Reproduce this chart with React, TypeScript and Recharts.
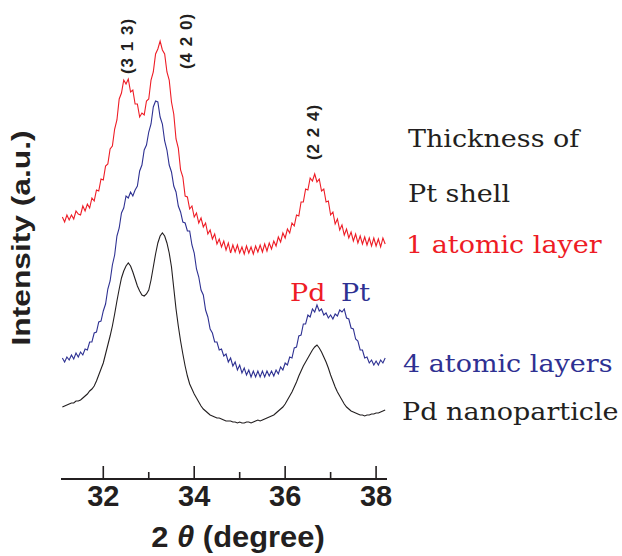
import { LineChart, Line, XAxis, YAxis } from 'recharts'

// 2θ positions (degree), one row per half degree
const angles = [
  31.1, 31.15, 31.2, 31.25, 31.3, 31.35, 31.4, 31.45, 31.5, 31.55,
  31.6, 31.65, 31.7, 31.75, 31.8, 31.85, 31.9, 31.95, 32.0, 32.05,
  32.1, 32.15, 32.2, 32.25, 32.3, 32.35, 32.4, 32.45, 32.5, 32.55,
  32.6, 32.65, 32.7, 32.75, 32.8, 32.85, 32.9, 32.95, 33.0, 33.05,
  33.1, 33.15, 33.2, 33.25, 33.3, 33.35, 33.4, 33.45, 33.5, 33.55,
  33.6, 33.65, 33.7, 33.75, 33.8, 33.85, 33.9, 33.95, 34.0, 34.05,
  34.1, 34.15, 34.2, 34.25, 34.3, 34.35, 34.4, 34.45, 34.5, 34.55,
  34.6, 34.65, 34.7, 34.75, 34.8, 34.85, 34.9, 34.95, 35.0, 35.05,
  35.1, 35.15, 35.2, 35.25, 35.3, 35.35, 35.4, 35.45, 35.5, 35.55,
  35.6, 35.65, 35.7, 35.75, 35.8, 35.85, 35.9, 35.95, 36.0, 36.05,
  36.1, 36.15, 36.2, 36.25, 36.3, 36.35, 36.4, 36.45, 36.5, 36.55,
  36.6, 36.65, 36.7, 36.75, 36.8, 36.85, 36.9, 36.95, 37.0, 37.05,
  37.1, 37.15, 37.2, 37.25, 37.3, 37.35, 37.4, 37.45, 37.5, 37.55,
  37.6, 37.65, 37.7, 37.75, 37.8, 37.85, 37.9, 37.95, 38.0, 38.05,
  38.1, 38.15, 38.2,
]

// intensity (a.u.), curves offset as in the figure
const oneLayer = [
  262, 257, 264, 259, 264, 260, 268, 265, 264, 273,
  268, 275, 271, 281, 278, 289, 288, 300, 299, 313,
  315, 330, 333, 350, 359, 380, 386, 399, 395, 400,
  387, 389, 375, 375, 362, 366, 364, 378, 380, 399,
  407, 425, 430, 438, 429, 425, 407, 399, 377, 365,
  340, 331, 309, 302, 283, 282, 270, 273, 262, 266,
  256, 261, 252, 256, 245, 249, 240, 245, 235, 240,
  232, 238, 229, 236, 226, 234, 227, 234, 226, 232,
  225, 233, 226, 232, 225, 233, 227, 234, 227, 235,
  228, 236, 230, 238, 233, 242, 237, 246, 241, 250,
  246, 256, 253, 264, 263, 277, 277, 290, 289, 301,
  298, 305, 297, 300, 288, 290, 277, 278, 264, 267,
  255, 260, 249, 254, 244, 250, 241, 247, 238, 245,
  236, 243, 235, 242, 234, 241, 233, 241, 233, 240,
  232, 241, 235,
]

const fourLayers = [
  121, 117, 122, 119, 124, 120, 126, 122, 127, 124,
  130, 129, 137, 137, 146, 147, 157, 158, 168, 175,
  190, 198, 214, 224, 243, 251, 266, 271, 283, 281,
  287, 283, 289, 293, 308, 314, 329, 334, 347, 355,
  372, 378, 377, 362, 355, 338, 329, 314, 307, 293,
  287, 273, 267, 257, 256, 248, 248, 234, 226, 210,
  202, 189, 184, 169, 162, 150, 146, 137, 137, 129,
  130, 123, 125, 117, 121, 113, 117, 109, 114, 106,
  111, 104, 109, 102, 108, 102, 108, 102, 108, 102,
  108, 103, 108, 103, 109, 105, 112, 109, 116, 114,
  122, 121, 131, 132, 143, 144, 155, 155, 164, 162,
  170, 167, 174, 168, 170, 164, 166, 161, 164, 160,
  165, 163, 169, 167, 170, 161, 160, 151, 150, 140,
  138, 129, 129, 121, 122, 116, 119, 114, 118, 114,
  119, 116, 121,
]

const pdParticle = [
  72, 73, 74, 75, 76, 76, 78, 78, 79, 81,
  83, 85, 88, 90, 93, 98, 104, 110, 116, 125,
  134, 143, 153, 165, 178, 190, 201, 208, 213, 216,
  213, 207, 200, 193, 188, 184, 183, 185, 189, 199,
  212, 225, 236, 243, 246, 243, 236, 226, 212, 191,
  170, 153, 138, 125, 113, 103, 95, 90, 85, 81,
  77, 73, 70, 68, 66, 64, 63, 62, 61, 61,
  60, 59, 58, 58, 58, 57, 57, 56, 57, 56,
  56, 57, 57, 56, 57, 58, 59, 58, 59, 60,
  61, 62, 63, 64, 66, 68, 70, 72, 75, 79,
  83, 87, 92, 97, 103, 108, 113, 117, 121, 125,
  129, 132, 134, 131, 127, 122, 117, 111, 104, 98,
  92, 87, 83, 79, 75, 72, 70, 68, 67, 66,
  65, 64, 64, 63, 64, 64, 65, 65, 66, 66,
  67, 68, 69,
]

const xTicks = [32, 33, 34, 35, 36, 37, 38]

const RED = '#ee1c25'
const BLUE = '#2e3192'
const INK = '#231f20'

const rows = angles.map((a, i) => ({
  angle: a,
  one: oneLayer[i],
  four: fourLayers[i],
  pd: pdParticle[i],
}))

const TICK_GAP = 13

// ticks point into the plot; only even degrees get a label
function AngleTick({ x, y, payload }: any) {
  const major = payload.value % 2 === 0
  const axisY = y - TICK_GAP
  return (
    <g>
      <line x1={x} x2={x} y1={axisY} y2={axisY - (major ? 13 : 7)} stroke={INK} strokeWidth={1.6} />
      {major && (
        <text
          x={x}
          y={axisY + 27}
          textAnchor="middle"
          fontFamily="Liberation Sans, Arial, sans-serif"
          fontWeight="bold"
          fontSize={29}
          fill={INK}
        >
          {payload.value}
        </text>
      )}
    </g>
  )
}

const serif = 'DejaVu Serif, serif'
const sans = 'Liberation Sans, Arial, sans-serif'

export default function App() {
  return (
    <div style={{ position: 'absolute', left: 0, top: 0, width: 622, height: 556, background: '#fff' }}>
      <LineChart
        width={622}
        height={556}
        data={rows}
        margin={{ top: 28, right: 235, bottom: 27, left: 61 }}
      >
        <XAxis
          dataKey="angle"
          type="number"
          domain={[31.07, 38.24]}
          ticks={xTicks}
          interval={0}
          tick={<AngleTick />}
          tickLine={false}
          tickSize={TICK_GAP}
          tickMargin={0}
          height={50}
          axisLine={{ stroke: INK, strokeWidth: 2 }}
          allowDataOverflow
        />
        <YAxis
          type="number"
          domain={[0, 451]}
          width={0}
          tick={false}
          tickLine={false}
          axisLine={{ stroke: INK, strokeWidth: 2 }}
        />
        <Line dataKey="pd" stroke={INK} strokeWidth={1.1} dot={false} isAnimationActive={false} />
        <Line dataKey="four" stroke={BLUE} strokeWidth={1.1} dot={false} isAnimationActive={false} />
        <Line dataKey="one" stroke={RED} strokeWidth={1.1} dot={false} isAnimationActive={false} />
      </LineChart>
      <svg
        width={622}
        height={556}
        style={{ position: 'absolute', left: 0, top: 0, pointerEvents: 'none' }}
      >
        <text
          transform="translate(30,238) rotate(-90) scale(1.22,1)"
          textAnchor="middle"
          fontFamily={sans}
          fontWeight="bold"
          fontSize={26}
          fill={INK}
        >
          Intensity (a.u.)
        </text>
        <text
          transform="translate(238,547) scale(1.03,1)"
          textAnchor="middle"
          fontFamily={sans}
          fontWeight="bold"
          fontSize={30}
          fill={INK}
        >
          2 <tspan fontStyle="italic">θ</tspan>{'  '}(degree)
        </text>
        <g fontFamily={sans} fontWeight="bold" fontSize={17} letterSpacing={1} fill={INK}>
          <text transform="translate(133,46) rotate(-90)" textAnchor="middle">(3 1 3)</text>
          <text transform="translate(192,41) rotate(-90)" textAnchor="middle">(4 2 0)</text>
          <text transform="translate(319,132) rotate(-90)" textAnchor="middle">(2 2 4)</text>
        </g>
        <g fontFamily={serif} fontSize={25}>
          <text transform="translate(408,147) scale(1.08,1)" fill={INK}>Thickness of</text>
          <text transform="translate(408,202) scale(1.08,1)" fill={INK}>Pt shell</text>
          <text transform="translate(406,253) scale(1.08,1)" fill={RED}>1 atomic layer</text>
          <text transform="translate(290,301) scale(1.08,1)" fill={RED}>Pd</text>
          <text transform="translate(341,301) scale(1.08,1)" fill={BLUE}>Pt</text>
          <text transform="translate(403,372) scale(1.08,1)" fill={BLUE}>4 atomic layers</text>
          <text transform="translate(402,420) scale(1.08,1)" fill={INK}>Pd nanoparticle</text>
        </g>
      </svg>
    </div>
  )
}
